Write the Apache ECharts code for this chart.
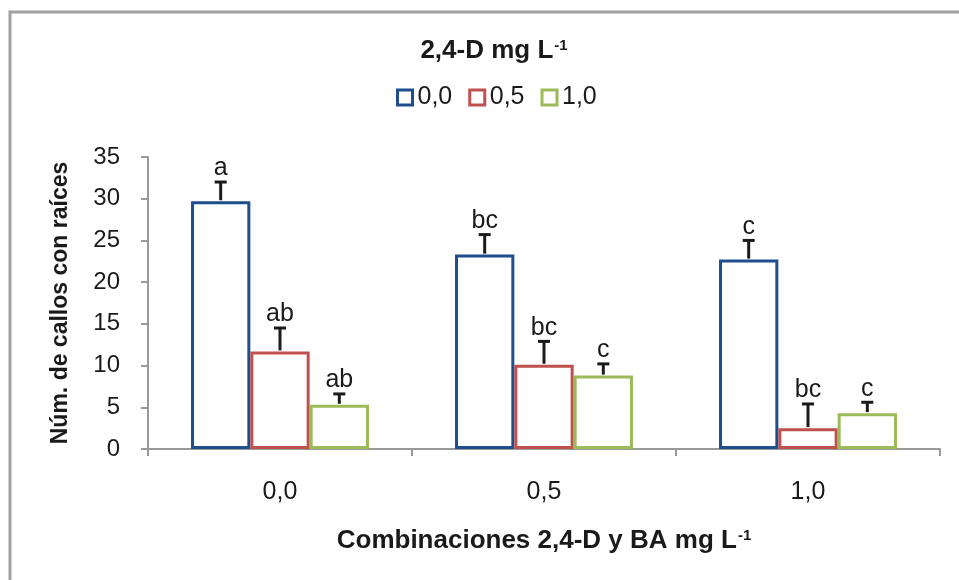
<!DOCTYPE html>
<html><head><meta charset="utf-8">
<script src="https://cdn.jsdelivr.net/npm/echarts@6/dist/echarts.min.js"></script>
<style>html,body{margin:0;padding:0;background:#fff}#c{width:959px;height:580px}</style>
</head><body><div id="c"></div>
<script>
const categories = ['0,0', '0,5', '1,0'];
const seriesNames = ['0,0', '0,5', '1,0'];
const values0 = [29.7, 23.3, 22.7];
const values05 = [11.7, 10.1, 2.5];
const values10 = [5.3, 8.8, 4.3];
const errors0 = [2.3, 2.4, 2.3];
const errors05 = [2.8, 2.8, 2.9];
const errors10 = [1.3, 1.4, 1.3];
const letters0 = ['a', 'bc', 'c'];
const letters05 = ['ab', 'bc', 'bc'];
const letters10 = ['ab', 'c', 'c'];
const yTicks = [0, 5, 10, 15, 20, 25, 30, 35];

const colors = ['#1F4E8C', '#C0504D', '#9BBB59'];
const values = [values0, values05, values10];
const errors = [errors0, errors05, errors10];
const letters = [letters0, letters05, letters10];
const catGap = 0.326;
const FONT = 'Liberation Sans, Arial, sans-serif';
const TXT = '#1a1a1a';

const chart = echarts.init(document.getElementById('c'));
const series = [];
seriesNames.forEach((n, i) => {
  series.push({
    name: n, type: 'bar', data: values[i],
    barGap: '0%', barCategoryGap: (catGap * 100) + '%',
    itemStyle: { color: '#fff', borderColor: colors[i], borderWidth: 3 },
    z: 2
  });
});
seriesNames.forEach((n, i) => {
  series.push({
    type: 'custom', name: 'err' + i, z: 5,
    data: categories.map((c, k) => [k, values[i][k], errors[i][k]]),
    encode: { x: 0, y: 1 },
    renderItem: function (params, api) {
      const k = api.value(0), v = api.value(1), e = api.value(2);
      const lt = letters[i][k];
      const p = api.coord([k, v]);
      const t = api.coord([k, v + e]);
      const bw = api.size([1, 0])[0];
      const barW = bw * (1 - catGap) / 3;
      const x = p[0] + (i - 1) * barW;
      return { type: 'group', children: [
        { type: 'line', shape: { x1: x, y1: p[1] - 1, x2: x, y2: t[1] }, style: { stroke: TXT, lineWidth: 3 } },
        { type: 'line', shape: { x1: x - 6, y1: t[1], x2: x + 6, y2: t[1] }, style: { stroke: TXT, lineWidth: 3 } },
        { type: 'text', x: x, y: t[1] - 1, style: { text: lt, fill: TXT, font: '25px ' + FONT, align: 'center', verticalAlign: 'bottom' } }
      ] };
    }
  });
});

chart.setOption({
  animation: false,
  backgroundColor: '#fff',
  graphic: [
    { type: 'polyline', shape: { points: [[10, 580], [10, 12], [959, 12]] }, style: { stroke: '#a0a0a0', lineWidth: 3, fill: null } }
  ],
  title: {
    text: '{a|2,4-D mg L}{s|-1}', left: 489, textAlign: 'center', top: 33,
    textStyle: { rich: {
      a: { fontFamily: FONT, fontWeight: 'bold', fontSize: 26, color: TXT },
      s: { fontFamily: FONT, fontWeight: 'bold', fontSize: 15, color: TXT, padding: [0, 0, 11, 1] }
    } }
  },
  legend: {
    data: seriesNames, top: 85, left: 396, padding: 0, itemWidth: 15, itemHeight: 15, itemGap: 16,
    icon: 'rect',
    textStyle: { fontFamily: FONT, fontSize: 25, color: TXT },
    itemStyle: { color: '#fff', borderWidth: 3 }
  },
  color: colors,
  grid: { left: 148, right: 19, top: 157, bottom: 131, containLabel: false },
  xAxis: {
    type: 'category', data: categories,
    axisLine: { lineStyle: { color: '#999', width: 2 } },
    axisTick: { show: true, length: 7, lineStyle: { color: '#999', width: 2 } },
    axisLabel: { fontFamily: FONT, fontSize: 25, color: TXT, margin: 31 },
    name: '{a|Combinaciones 2,4-D y BA mg L}{s|-1}', nameLocation: 'middle', nameGap: 79,
    nameTextStyle: { rich: {
      a: { fontFamily: FONT, fontWeight: 'bold', fontSize: 26, color: TXT },
      s: { fontFamily: FONT, fontWeight: 'bold', fontSize: 15, color: TXT, padding: [0, 0, 11, 1] }
    } }
  },
  yAxis: {
    type: 'value', min: 0, max: 35, interval: 5,
    axisLine: { show: true, lineStyle: { color: '#999', width: 2 } },
    axisTick: { show: true, length: 7, lineStyle: { color: '#999', width: 2 } },
    splitLine: { show: false },
    axisLabel: { fontFamily: FONT, fontSize: 24, color: TXT, margin: 28 },
    name: 'Núm. de callos con raíces', nameLocation: 'middle', nameGap: 76,
    nameTextStyle: { fontFamily: FONT, fontWeight: 'bold', fontSize: 23, color: TXT }
  },
  series: series
});
</script></body></html>
